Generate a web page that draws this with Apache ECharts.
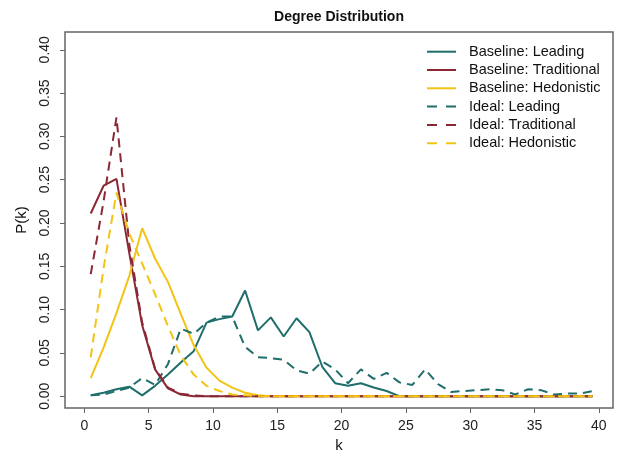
<!DOCTYPE html>
<html>
<head>
<meta charset="utf-8">
<script src="https://cdn.jsdelivr.net/npm/echarts@6/dist/echarts.min.js"></script>
<style>html,body{margin:0;padding:0;background:#fff}#c{width:617px;height:458px}</style>
</head>
<body>
<div id="c"></div>
<script>
// Degree values k (bin centres)
const kValues = [0.5,1.5,2.5,3.5,4.5,5.5,6.5,7.5,8.5,9.5,10.5,11.5,12.5,13.5,14.5,15.5,16.5,17.5,18.5,19.5,
                 20.5,21.5,22.5,23.5,24.5,25.5,26.5,27.5,28.5,29.5,30.5,31.5,32.5,33.5,34.5,35.5,36.5,37.5,38.5,39.5];

const baselineLeading = [0.001,0.004,0.008,0.011,0.001,0.012,0.025,0.039,0.052,0.085,0.089,0.092,0.122,0.076,0.091,0.069,0.090,0.074,0.034,0.015,
                         0.012,0.015,0.010,0.006,0,0,0,0,0,0,0,0,0,0,0,0,0,0,0,0];
const baselineTraditional = [0.211,0.243,0.251,0.165,0.082,0.031,0.009,0.002,0,0,0,0,0,0,0,0,0,0,0,0,
                             0,0,0,0,0,0,0,0,0,0,0,0,0,0,0,0,0,0,0,0];
const baselineHedonistic = [0.021,0.056,0.096,0.139,0.194,0.159,0.132,0.095,0.059,0.033,0.018,0.010,0.004,0.001,0,0,0,0,0,0,
                            0,0,0,0,0,0,0,0,0,0,0,0,0,0,0,0,0,0,0,0];
const idealLeading = [0.001,0.002,0.006,0.010,0.021,0.013,0.037,0.078,0.072,0.085,0.092,0.092,0.057,0.045,0.044,0.042,0.030,0.026,0.040,0.031,
                      0.015,0.031,0.020,0.027,0.016,0.013,0.031,0.014,0.005,0.006,0.007,0.008,0.007,0.002,0.008,0.007,0.002,0.003,0.003,0.006];
const idealTraditional = [0.141,0.225,0.322,0.175,0.085,0.032,0.010,0.003,0.001,0,0,0,0,0,0,0,0,0,0,0,
                          0,0,0,0,0,0,0,0,0,0,0,0,0,0,0,0,0,0,0,0];
const idealHedonistic = [0.045,0.148,0.235,0.188,0.153,0.118,0.081,0.047,0.025,0.012,0.006,0.002,0.001,0,0,0,0,0,0,0,
                         0,0,0,0,0,0,0,0,0,0,0,0,0,0,0,0,0,0,0,0];

const xTicks = [0,5,10,15,20,25,30,35,40];
const yTicks = [0,0.05,0.10,0.15,0.20,0.25,0.30,0.35,0.40];

const seriesNames = ['Baseline: Leading','Baseline: Traditional','Baseline: Hedonistic','Ideal: Leading','Ideal: Traditional','Ideal: Hedonistic'];
const seriesValues = [baselineLeading, baselineTraditional, baselineHedonistic, idealLeading, idealTraditional, idealHedonistic];

const TEAL = '#1f6e6b', MAROON = '#8b2834', GOLD = '#f3c414';
const colors = [TEAL, MAROON, GOLD, TEAL, MAROON, GOLD];
const FONT = 'Liberation Sans';
const DASH = [9, 6];

const series = seriesNames.map((name, i) => ({
  name: name,
  type: 'line',
  symbol: 'none',
  data: kValues.map((k, j) => [k, seriesValues[i][j]]),
  lineStyle: { color: colors[i], width: 2, type: i >= 3 ? DASH : 'solid' },
  itemStyle: { color: colors[i] },
  z: 2 + i
}));

// Legend drawn as graphic elements (line sample + text per row)
const legendGraphics = [];
seriesNames.forEach((n, i) => {
  const y = 51.7 + 18.3 * i;
  legendGraphics.push({
    type: 'line', shape: { x1: 427, y1: y, x2: 456, y2: y },
    style: { stroke: colors[i], lineWidth: 2, lineDash: i >= 3 ? [10, 9] : null }
  });
  legendGraphics.push({
    type: 'text', x: 469, y: y,
    style: { text: n, textVerticalAlign: 'middle', textAlign: 'left',
             font: '14.5px "Liberation Sans"', fill: '#111' }
  });
});

const chart = echarts.init(document.getElementById('c'), null, { renderer: 'canvas' });
chart.setOption({
  animation: false,
  backgroundColor: '#fff',
  grid: { left: 65, right: 4, top: 32, bottom: 44, show: true, borderColor: '#666', borderWidth: 1.5 },
  graphic: [{
    type: 'text', x: 339, y: 17,
    style: { text: 'Degree Distribution', textAlign: 'center', textVerticalAlign: 'middle',
             font: 'bold 14px "Liberation Sans"', fill: '#111' }
  }].concat(legendGraphics),
  xAxis: {
    type: 'value', min: -1.5, max: 41.1,
    name: 'k', nameLocation: 'middle', nameGap: 30,
    nameTextStyle: { fontFamily: FONT, fontSize: 15, color: '#111' },
    axisLine: { show: false, onZero: false },
    splitLine: { show: false },
    axisTick: { show: true, length: 5, customValues: xTicks, lineStyle: { color: '#666' } },
    axisLabel: { customValues: xTicks, fontFamily: FONT, fontSize: 14, color: '#222', margin: 11 }
  },
  yAxis: {
    type: 'value', min: -0.0136, max: 0.4205,
    name: 'P(k)', nameLocation: 'middle', nameGap: 36, nameRotate: 90,
    nameTextStyle: { fontFamily: FONT, fontSize: 15, color: '#111' },
    axisLine: { show: false, onZero: false },
    splitLine: { show: false },
    axisTick: { show: true, length: 5, customValues: yTicks, lineStyle: { color: '#666' } },
    axisLabel: { customValues: yTicks, rotate: 90, fontFamily: FONT, fontSize: 14, color: '#222', margin: 13,
                 formatter: v => v.toFixed(2) }
  },
  series: series
});
</script>
</body>
</html>
